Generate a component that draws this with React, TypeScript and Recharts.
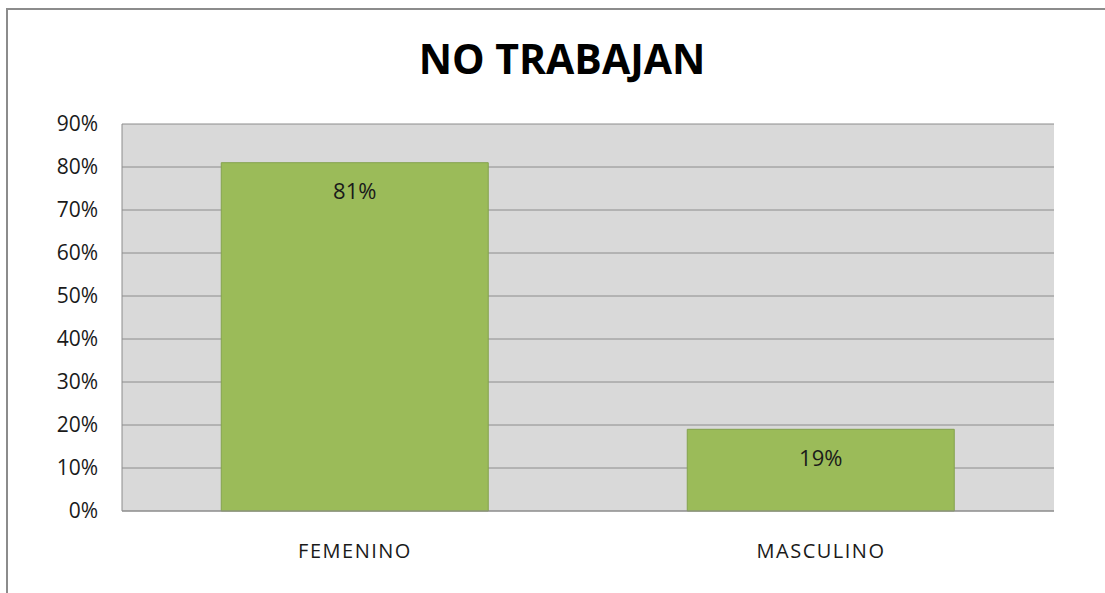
import React from 'react';
import { BarChart, Bar, XAxis, YAxis, CartesianGrid, LabelList } from 'recharts';

const categories = ['FEMENINO', 'MASCULINO'];
const values = [81, 19];
const yTicks = [0, 10, 20, 30, 40, 50, 60, 70, 80, 90];

const chartData = categories.map((name, i) => ({ name, value: values[i] }));

const FONT = '"Open Sans", "Noto Sans", sans-serif';
const pct = (v: any) => `${v}%`;

const App: React.FC = () => {
    return (
        <div style={{ position: 'absolute', left: 0, top: 0, width: 1105, height: 593, overflow: 'hidden', background: '#fff', fontFamily: FONT }}>
            {/* chart frame, only left and top edges are visible */}
            <div style={{ position: 'absolute', left: 6, top: 8, width: 1200, height: 700, border: '2px solid #8c8c8c', boxSizing: 'border-box' }} />
            <div style={{ position: 'absolute', left: 0, top: 38, width: 1124, textAlign: 'center', fontSize: 41, lineHeight: '41px', fontWeight: 700, color: '#000' }}>
                NO TRABAJAN
            </div>
            <div style={{ position: 'absolute', left: 0, top: 0 }}>
                <BarChart width={1105} height={593} data={chartData} margin={{ top: 124, right: 51, left: 0, bottom: 0 }} barCategoryGap="21.3%">
                    <CartesianGrid vertical={false} fill="#d9d9d9" stroke="#8c8c8c" strokeWidth={1} />
                    <XAxis
                        dataKey="name"
                        height={82}
                        tickSize={0}
                        tickMargin={33}
                        axisLine={{ stroke: '#8c8c8c' }}
                        tick={{ fill: '#1a1a1a', fontSize: 20, fontFamily: FONT, letterSpacing: 1.5 }}
                    />
                    <YAxis
                        width={122}
                        domain={[0, 90]}
                        ticks={yTicks}
                        interval={0}
                        tickFormatter={pct}
                        tickSize={0}
                        tickMargin={24}
                        axisLine={{ stroke: '#8c8c8c' }}
                        tick={{ fill: '#1a1a1a', fontSize: 21, fontFamily: FONT }}
                    />
                    <Bar dataKey="value" fill="#9bbb59" stroke="#84a24e" strokeWidth={1} isAnimationActive={false}>
                        <LabelList dataKey="value" position="insideTop" offset={21} formatter={pct} fill="#1a1a1a" fontSize={22} fontFamily={FONT} />
                    </Bar>
                </BarChart>
            </div>
        </div>
    );
};

export default App;
